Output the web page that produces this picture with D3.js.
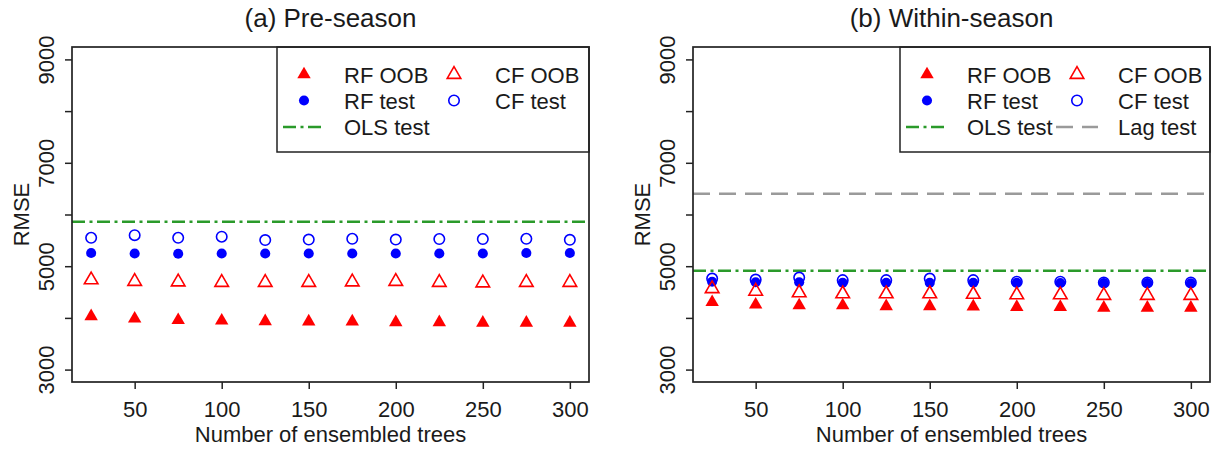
<!DOCTYPE html>
<html>
<head>
<meta charset="utf-8">
<script src="https://cdn.jsdelivr.net/npm/d3@7"></script>
<style>
  body { margin: 0; background: #fff; }
  text { font-family: "Liberation Sans", Arial, sans-serif; fill: #1a1a1a; }
</style>
</head>
<body>
<svg id="chart" width="1218" height="449"></svg>
<script>
// number of ensembled trees
const trees = [25, 50, 75, 100, 125, 150, 175, 200, 225, 250, 275, 300];

// (a) pre-season RMSE
const preRfOob  = [4030, 3985, 3955, 3945, 3935, 3930, 3930, 3915, 3915, 3905, 3905, 3905];
const preCfOob  = [4735, 4705, 4695, 4685, 4685, 4685, 4695, 4705, 4685, 4675, 4685, 4685];
const preRfTest = [5255, 5245, 5240, 5245, 5245, 5245, 5245, 5245, 5245, 5245, 5255, 5255];
const preCfTest = [5550, 5600, 5550, 5570, 5505, 5515, 5530, 5515, 5525, 5525, 5530, 5510];
const preOls = 5860;

// (b) within-season RMSE
const inRfOob  = [4305, 4255, 4240, 4240, 4225, 4225, 4220, 4210, 4210, 4195, 4195, 4195];
const inCfOob  = [4565, 4515, 4485, 4465, 4465, 4465, 4455, 4445, 4445, 4435, 4435, 4435];
const inRfTest = [4700, 4690, 4690, 4680, 4680, 4680, 4680, 4680, 4675, 4675, 4675, 4670];
const inCfTest = [4760, 4740, 4780, 4730, 4730, 4760, 4730, 4700, 4700, 4685, 4685, 4685];
const inOls = 4910;
const inLag = 6400;

const xTicks = [50, 100, 150, 200, 250, 300];
const yTicks = [3000, 4000, 5000, 6000, 7000, 8000, 9000];
const yLabels = [3000, 5000, 7000, 9000];

const RED = "#ff0000", BLUE = "#0000ff", GREEN = "#2a9a2a", GREY = "#9a9a9a";
const OLS_DASH = "13,4.5,3,4.5", LAG_DASH = "17,9";

const panels = [
  { title: "(a) Pre-season", dx: 0, rfOob: preRfOob, cfOob: preCfOob, rfTest: preRfTest, cfTest: preCfTest, ols: preOls, lag: null },
  { title: "(b) Within-season", dx: 621, rfOob: inRfOob, cfOob: inCfOob, rfTest: inRfTest, cfTest: inCfTest, ols: inOls, lag: inLag }
];

const svg = d3.select("#chart");
const L = 72, R = 589, T = 47, B = 382;

const x = d3.scaleLinear().domain([14, 311]).range([L, R]);
const y = d3.scaleLinear().domain([2760, 9240]).range([B, T]);

const sym = {
  fTri: d3.symbol().type(d3.symbolTriangle).size(78),
  oTri: d3.symbol().type(d3.symbolTriangle).size(80),
  fCir: d3.symbol().type(d3.symbolCircle).size(80),
  oCir: d3.symbol().type(d3.symbolCircle).size(86)
};

function drawMarker(g, kind, cx, cy) {
  const p = g.append("path").attr("d", sym[kind]()).attr("transform", `translate(${cx},${cy})`);
  if (kind == "fTri") p.attr("fill", RED);
  if (kind == "oTri") p.attr("fill", "none").attr("stroke", RED).attr("stroke-width", 1.6);
  if (kind == "fCir") p.attr("fill", BLUE);
  if (kind == "oCir") p.attr("fill", "none").attr("stroke", BLUE).attr("stroke-width", 1.6);
}

panels.forEach(function (pn) {
  const g = svg.append("g").attr("transform", `translate(${pn.dx},0)`);

  // title
  g.append("text").attr("x", (L + R) / 2).attr("y", 27).attr("text-anchor", "middle")
    .attr("font-size", 26).text(pn.title);

  // axes
  const ax = g.append("g").attr("transform", `translate(0,${B})`)
    .call(d3.axisBottom(x).tickValues(xTicks).tickSize(7).tickFormat(d3.format("d")));
  ax.select(".domain").remove();
  ax.selectAll("line").attr("stroke", "#222").attr("stroke-width", 1.5);
  ax.selectAll("text").attr("y", 35).attr("dy", null).attr("font-size", 22).attr("fill", "#1a1a1a");

  const ay = g.append("g").attr("transform", `translate(${L},0)`)
    .call(d3.axisLeft(y).tickValues(yTicks).tickSize(7)
      .tickFormat(d => yLabels.includes(d) ? d : ""));
  ay.select(".domain").remove();
  ay.selectAll("line").attr("stroke", "#222").attr("stroke-width", 1.5);
  ay.selectAll("text").attr("x", 0).attr("y", 0).attr("dy", null)
    .attr("text-anchor", "middle").attr("font-size", 22).attr("fill", "#1a1a1a")
    .attr("transform", "translate(-18.5,0) rotate(-90)");

  g.append("text").attr("x", (L + R) / 2).attr("y", 442).attr("text-anchor", "middle")
    .attr("font-size", 22).text("Number of ensembled trees");
  g.append("text").attr("transform", `translate(29,${(T + B) / 2}) rotate(-90)`)
    .attr("text-anchor", "middle").attr("font-size", 22).text("RMSE");

  // reference lines
  const clipId = "clip" + pn.dx;
  g.append("clipPath").attr("id", clipId).append("rect")
    .attr("x", L).attr("y", T).attr("width", R - L).attr("height", B - T);
  const plot = g.append("g").attr("clip-path", `url(#${clipId})`);

  if (pn.lag != null) {
    plot.append("line").attr("x1", L).attr("x2", R).attr("y1", y(pn.lag)).attr("y2", y(pn.lag))
      .attr("stroke", GREY).attr("stroke-width", 2.5).attr("stroke-dasharray", LAG_DASH);
  }
  plot.append("line").attr("x1", L).attr("x2", R).attr("y1", y(pn.ols)).attr("y2", y(pn.ols))
    .attr("stroke", GREEN).attr("stroke-width", 2.5).attr("stroke-dasharray", OLS_DASH);

  // points
  const series = [["cfTest", "oCir"], ["rfTest", "fCir"], ["cfOob", "oTri"], ["rfOob", "fTri"]];
  series.forEach(function (s) {
    pn[s[0]].forEach(function (v, i) { drawMarker(plot, s[1], x(trees[i]), y(v)); });
  });

  // legend
  const lx = pn.lag != null ? 279 : 277;
  const lg = g.append("g");
  lg.append("rect").attr("x", lx).attr("y", T).attr("width", R - lx).attr("height", 152 - T)
    .attr("fill", "#fff").attr("stroke", "#222").attr("stroke-width", 1.5);
  const rows = [74.5, 100.5, 127];
  const c1s = lx + 27, c1t = lx + 67, c2s = lx + 177, c2t = lx + 218;
  const items = [
    { sx: c1s, tx: c1t, row: 0, kind: "fTri", label: "RF OOB" },
    { sx: c2s, tx: c2t, row: 0, kind: "oTri", label: "CF OOB" },
    { sx: c1s, tx: c1t, row: 1, kind: "fCir", label: "RF test" },
    { sx: c2s, tx: c2t, row: 1, kind: "oCir", label: "CF test" },
    { sx: c1s, tx: c1t, row: 2, line: GREEN, dash: OLS_DASH, label: "OLS test" }
  ];
  if (pn.lag != null) items.push({ sx: c2s, tx: c2t, row: 2, line: GREY, dash: LAG_DASH, label: "Lag test" });
  items.forEach(function (it) {
    const cy = rows[it.row];
    if (it.line) {
      lg.append("line").attr("x1", it.sx - 21).attr("x2", it.sx + 21).attr("y1", cy).attr("y2", cy)
        .attr("stroke", it.line).attr("stroke-width", 2.5).attr("stroke-dasharray", it.dash);
    } else {
      drawMarker(lg, it.kind, it.sx, cy);
    }
    lg.append("text").attr("x", it.tx).attr("y", cy + 8).attr("font-size", 22).text(it.label);
  });

  // box
  g.append("rect").attr("x", L).attr("y", T).attr("width", R - L).attr("height", B - T)
    .attr("fill", "none").attr("stroke", "#222").attr("stroke-width", 1.7);
});
</script>
</body>
</html>
